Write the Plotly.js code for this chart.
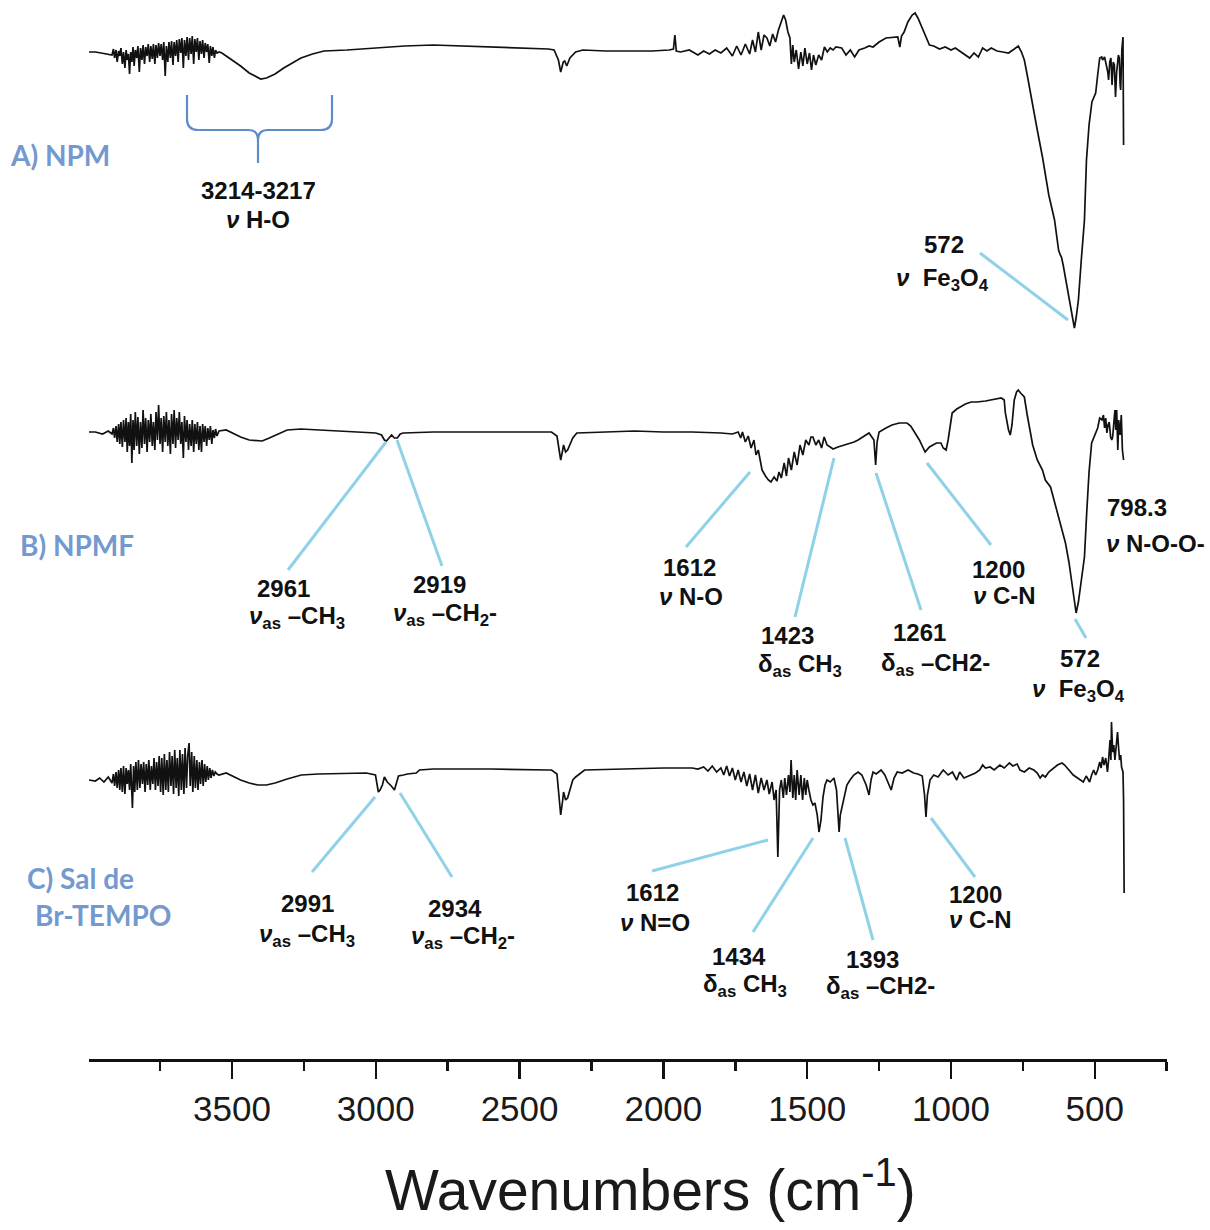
<!DOCTYPE html>
<html>
<head>
<meta charset="utf-8">
<script src="https://cdn.plot.ly/plotly-3.0.1.min.js"></script>
<style>
html,body{margin:0;padding:0;background:#fff;}
#chart{width:1210px;height:1230px;}
</style>
</head>
<body>
<div id="chart"></div>
<script>
// ---------- DATA: [wavenumber (cm-1), absorption depth relative to baseline (arb. units)] ----------
const specA_NPM = [[3997,2],[3975,2],[3955,3],[3935,4],[3917,5],[3912,-1],[3908,8],[3903,0],[3899,12],[3894,1],[3890,6],[3886,-2],[3881,14],[3877,2],[3872,18],[3868,0],[3864,10],[3860,4],[3856,24],[3852,2],[3848,12],[3844,-3],[3840,16],[3836,0],[3831,8],[3827,-4],[3822,22],[3818,-2],[3813,10],[3809,-5],[3804,14],[3800,-3],[3795,6],[3791,-6],[3786,12],[3782,-4],[3777,9],[3773,-6],[3768,14],[3764,-5],[3759,8],[3755,-7],[3750,6],[3746,-6],[3741,10],[3737,-8],[3732,26],[3728,-4],[3723,12],[3719,-8],[3714,8],[3710,-9],[3705,15],[3701,-8],[3696,6],[3692,-10],[3687,12],[3683,-11],[3678,3],[3674,-12],[3669,18],[3665,-10],[3660,6],[3656,-13],[3651,10],[3647,-12],[3642,4],[3638,-14],[3633,14],[3629,-11],[3624,2],[3620,-12],[3615,10],[3611,-9],[3606,4],[3602,-10],[3597,8],[3593,-7],[3588,2],[3584,-6],[3579,13],[3575,-4],[3570,6],[3566,-3],[3561,8],[3557,0],[3552,3],[3545,2],[3535,3],[3520,6],[3500,10],[3470,16],[3440,23],[3400,29],[3380,28],[3350,24],[3320,18],[3290,13],[3260,8],[3220,4],[3180,1],[3100,0],[3000,-2],[2900,-4],[2800,-5],[2700,-4],[2600,-3],[2500,-2],[2400,-1],[2380,0],[2365,10],[2357,22],[2348,12],[2343,11],[2336,16],[2325,8],[2305,2],[2280,0],[2200,1],[2100,1],[2040,1],[1980,0],[1965,-1],[1960,-15],[1955,1],[1940,2],[1910,0],[1880,5],[1860,1],[1840,4],[1820,0],[1800,3],[1780,-2],[1760,6],[1745,-4],[1730,5],[1715,-6],[1700,4],[1690,-10],[1680,2],[1670,-18],[1660,0],[1650,-15],[1640,-12],[1630,-4],[1620,-16],[1610,-8],[1600,-20],[1590,-28],[1582,-35],[1575,-30],[1567,-18],[1560,-12],[1555,14],[1550,-5],[1545,12],[1538,0],[1530,19],[1522,2],[1515,16],[1508,-2],[1500,14],[1492,3],[1485,20],[1478,5],[1470,15],[1460,5],[1450,10],[1440,-3],[1430,2],[1420,-2],[1410,0],[1400,-3],[1380,-2],[1365,5],[1350,0],[1335,7],[1320,0],[1300,-2],[1285,-4],[1271,-3],[1250,-8],[1226,-12],[1200,-13],[1185,-13],[1178,-3],[1172,-14],[1163,-18],[1150,-28],[1135,-35],[1125,-37],[1115,-32],[1100,-22],[1085,-12],[1075,-5],[1060,-4],[1040,-1],[1020,-3],[1000,0],[985,-2],[965,2],[950,5],[935,8],[920,3],[905,7],[890,-2],[875,1],[860,-2],[840,1],[820,2],[800,3],[780,-1],[766,-4],[755,2],[745,10],[735,25],[722,47],[700,80],[682,107],[660,145],[640,170],[626,200],[620,205],[616,207],[610,215],[598,235],[581,263],[575,272],[571,278],[565,268],[557,250],[547,210],[536,170],[529,110],[520,75],[510,52],[504,47],[497,43],[490,25],[483,8],[476,7],[473,10],[466,7],[459,15],[455,22],[452,30],[448,12],[444,8],[440,35],[436,12],[432,15],[428,47],[424,22],[418,5],[415,8],[412,35],[410,40],[406,0],[402,-13],[400,95]];

const specB_NPMF = [[3997,0],[3975,0],[3950,2],[3930,-1],[3917,2],[3912,-4],[3908,6],[3903,-6],[3899,10],[3894,-8],[3890,12],[3886,-10],[3881,15],[3877,-12],[3872,10],[3868,-14],[3864,20],[3860,-10],[3856,14],[3852,-18],[3848,31],[3844,-12],[3840,18],[3836,-20],[3831,14],[3827,-15],[3822,22],[3818,-10],[3813,16],[3809,-22],[3804,12],[3800,-14],[3795,20],[3791,-12],[3786,10],[3782,-18],[3777,14],[3773,-10],[3768,18],[3764,-20],[3759,8],[3755,-27],[3750,12],[3746,-14],[3741,20],[3737,-16],[3732,10],[3728,-20],[3723,14],[3719,-12],[3714,22],[3710,-18],[3705,12],[3701,-22],[3696,16],[3692,-14],[3687,8],[3683,-20],[3678,12],[3674,-10],[3669,26],[3665,-16],[3660,10],[3656,-12],[3651,18],[3647,-8],[3642,14],[3638,-12],[3633,20],[3629,-8],[3624,12],[3620,-10],[3615,18],[3611,-6],[3606,20],[3602,-8],[3597,10],[3593,-6],[3588,14],[3584,-4],[3579,8],[3575,-6],[3570,12],[3566,-2],[3561,6],[3557,-3],[3552,4],[3545,-1],[3520,-2],[3500,1],[3470,5],[3440,8],[3410,9],[3395,9],[3370,6],[3340,2],[3308,-2],[3260,-3],[3200,-2],[3100,-1],[3050,0],[3000,1],[2980,3],[2970,8],[2963,9],[2950,4],[2945,3],[2935,6],[2925,6],[2915,2],[2904,1],[2800,0],[2600,0],[2400,0],[2389,0],[2370,4],[2357,28],[2350,18],[2347,13],[2340,20],[2333,18],[2315,6],[2301,1],[2200,0],[2100,-1],[2000,0],[1900,0],[1800,1],[1760,2],[1740,0],[1731,6],[1725,0],[1715,10],[1705,4],[1695,16],[1685,8],[1678,23],[1670,18],[1657,38],[1645,44],[1635,48],[1626,50],[1615,45],[1605,49],[1598,40],[1590,46],[1580,31],[1572,44],[1565,26],[1555,38],[1545,20],[1535,33],[1525,13],[1515,23],[1505,8],[1494,13],[1487,5],[1480,5],[1470,13],[1460,8],[1450,16],[1441,5],[1431,13],[1420,15],[1410,17],[1393,15],[1380,14],[1360,12],[1337,10],[1323,8],[1300,4],[1285,1],[1268,8],[1262,33],[1257,10],[1250,0],[1226,-4],[1205,-7],[1180,-9],[1153,-9],[1140,-6],[1128,0],[1110,8],[1090,20],[1075,15],[1063,13],[1050,11],[1035,11],[1027,16],[1017,18],[1010,8],[996,-19],[980,-23],[968,-25],[950,-28],[930,-30],[910,-30],[880,-31],[860,-32],[840,-33],[825,-34],[815,-32],[811,-19],[800,-2],[794,3],[788,-7],[784,-19],[780,-32],[772,-40],[766,-42],[758,-39],[745,-35],[735,-17],[728,-5],[716,13],[700,28],[682,38],[672,48],[654,55],[640,70],[620,92],[602,111],[590,130],[580,150],[572,168],[565,181],[557,170],[547,150],[536,125],[528,80],[520,40],[511,11],[504,6],[497,1],[490,-4],[483,-14],[475,-12],[470,-17],[466,-4],[462,-14],[458,1],[454,-7],[450,-10],[445,5],[441,8],[438,5],[434,-7],[430,-22],[427,-2],[424,-22],[420,18],[417,-12],[412,3],[408,-17],[404,18],[400,28]];

const specC_BrTEMPO = [[3997,10],[3975,11],[3960,8],[3945,12],[3930,7],[3917,13],[3912,4],[3908,16],[3903,2],[3899,18],[3894,0],[3890,20],[3886,-2],[3881,22],[3877,-4],[3872,24],[3868,-2],[3864,14],[3860,0],[3856,20],[3852,-6],[3846,38],[3842,-4],[3838,22],[3834,-8],[3829,20],[3825,-10],[3820,18],[3816,-6],[3811,14],[3807,-8],[3802,22],[3798,-6],[3793,15],[3789,-10],[3784,20],[3780,-4],[3775,14],[3771,-12],[3766,20],[3762,-8],[3757,16],[3753,-14],[3748,22],[3744,-12],[3739,25],[3735,-16],[3730,20],[3726,-10],[3721,22],[3717,-18],[3712,16],[3708,-14],[3703,24],[3699,-20],[3694,18],[3690,-12],[3685,26],[3681,-20],[3676,20],[3672,-16],[3667,24],[3663,-22],[3658,18],[3654,-14],[3649,-27],[3645,16],[3640,-18],[3636,22],[3631,-14],[3627,18],[3622,-10],[3618,20],[3613,-8],[3609,14],[3604,-10],[3600,16],[3595,-6],[3591,12],[3586,-4],[3582,10],[3577,-2],[3573,8],[3568,0],[3563,6],[3558,2],[3552,4],[3545,5],[3520,3],[3500,6],[3470,10],[3440,13],[3410,15],[3380,15],[3350,13],[3308,9],[3259,5],[3200,4],[3100,3],[3033,3],[3001,5],[2995,15],[2991,22],[2985,20],[2977,15],[2970,7],[2960,12],[2946,16],[2935,20],[2925,10],[2921,6],[2904,5],[2890,4],[2859,3],[2848,0],[2800,-1],[2600,-1],[2400,0],[2389,0],[2370,4],[2357,45],[2350,30],[2347,22],[2340,30],[2333,28],[2315,10],[2305,7],[2274,0],[2150,-1],[2079,-2],[2000,-2],[1900,-2],[1880,-1],[1860,-3],[1845,1],[1830,-4],[1815,2],[1800,-2],[1790,5],[1780,-4],[1770,6],[1760,-2],[1750,10],[1740,0],[1730,12],[1720,2],[1710,16],[1700,4],[1690,20],[1680,5],[1670,23],[1660,8],[1650,20],[1640,10],[1632,24],[1622,12],[1615,30],[1608,20],[1602,87],[1596,20],[1590,10],[1583,28],[1578,8],[1572,25],[1565,5],[1560,22],[1556,-10],[1550,28],[1545,5],[1540,30],[1535,0],[1528,25],[1522,5],[1516,30],[1510,8],[1505,25],[1500,10],[1494,20],[1487,30],[1480,35],[1473,33],[1465,45],[1459,62],[1452,50],[1445,27],[1438,15],[1431,10],[1420,12],[1407,8],[1398,20],[1389,62],[1385,45],[1378,35],[1372,30],[1362,15],[1351,10],[1338,5],[1323,2],[1310,5],[1295,15],[1285,25],[1278,10],[1271,2],[1260,4],[1243,0],[1230,5],[1220,12],[1208,20],[1198,8],[1187,2],[1170,3],[1149,0],[1130,3],[1115,4],[1100,6],[1092,25],[1087,47],[1082,25],[1073,10],[1060,5],[1045,7],[1027,0],[1010,5],[995,2],[980,10],[970,2],[955,8],[930,5],[915,3],[900,0],[890,-5],[880,-2],[864,-3],[850,0],[830,-5],[815,-2],[797,-7],[785,-4],[770,-6],[760,0],[745,2],[728,-2],[712,0],[700,3],[690,8],[682,5],[672,7],[660,2],[645,-2],[630,-5],[614,-7],[605,-5],[590,0],[575,5],[560,8],[550,10],[540,12],[530,6],[518,12],[511,5],[504,0],[497,5],[490,0],[483,-8],[478,-2],[473,-13],[468,-5],[462,-12],[456,2],[452,-10],[447,-30],[444,-10],[442,-48],[438,-18],[434,-25],[430,-10],[428,-18],[424,-30],[421,-38],[418,-25],[414,-10],[410,-15],[407,-3],[402,2],[400,30],[398,123]];

const seriesNames = ["A) NPM", "B) NPMF", "C) Sal de Br-TEMPO"];
const tickValues = [3500, 3000, 2500, 2000, 1500, 1000, 500];
const axisTitle = "Wavenumbers (cm<sup>-1</sup>)";

// ---------- LAYOUT HELPERS (pixel geometry of the figure) ----------
const FIG_W = 1210, FIG_H = 1230;
const PL = 89, PR = 1167, PT = 0, PB = 1059;
const px = x => (x - PL) / (PR - PL);
const py = y => (PB - y) / (PB - PT);

// vertical stacking of the three spectra (baseline pixel rows)
const baselines = [50, 432, 770];
const specs = [specA_NPM, specB_NPMF, specC_BrTEMPO];

const traces = specs.map((s, i) => ({
  type: 'scatter', mode: 'lines',
  name: seriesNames[i],
  x: s.map(p => p[0]),
  y: s.map(p => -(baselines[i] + p[1])),
  line: {color: '#111111', width: 1.7},
  hoverinfo: 'skip', showlegend: false
}));

const txtFont = {family: 'Liberation Sans, Arial, sans-serif', size: 24, color: '#111111'};
const secFont = {family: 'Lato, Open Sans, sans-serif', size: 28, color: '#7399cf', weight: 700};
const NU = '<i>ν</i>';
const B = s => '<b>' + s + '</b>';

function label(cx, cy, text, font, anchor) {
  return {xref: 'paper', yref: 'paper', x: px(cx), y: py(cy), text: text,
          showarrow: false, xanchor: anchor || 'center', yanchor: 'middle',
          font: font || txtFont};
}

const annotations = [
  // section labels
  label(8, 155, B('A) NPM'), secFont, 'left'),
  label(18, 545, B('B) NPMF'), secFont, 'left'),
  label(25, 878, B('C) Sal de'), secFont, 'left'),
  label(33, 915, B('Br-TEMPO'), secFont, 'left'),
  // A
  label(258, 190, B('3214-3217')),
  label(258, 220, B(NU + ' H-O')),
  label(944, 244, B('572')),
  label(942, 279, B(NU + '  Fe<sub>3</sub>O<sub>4</sub>')),
  // B
  label(283, 588, B('2961')),
  label(297, 617, B(NU + '<sub>as</sub> –CH<sub>3</sub>')),
  label(439, 584, B('2919')),
  label(445, 614, B(NU + '<sub>as</sub> –CH<sub>2</sub>-')),
  label(689, 567, B('1612')),
  label(691, 596, B(NU + ' N-O')),
  label(787, 635, B('1423')),
  label(800, 665, B('δ<sub>as</sub> CH<sub>3</sub>')),
  label(919, 632, B('1261')),
  label(935, 664, B('δ<sub>as</sub> –CH2-')),
  label(998, 569, B('1200')),
  label(1004, 595, B(NU + ' C-N')),
  label(1137, 507, B('798.3')),
  label(1155, 543, B(NU + ' N-O-O-')),
  label(1080, 659, B('572')),
  label(1078, 690, B(NU + '  Fe<sub>3</sub>O<sub>4</sub>')),
  // C
  label(307, 903, B('2991')),
  label(307, 935, B(NU + '<sub>as</sub> –CH<sub>3</sub>')),
  label(455, 908, B('2934')),
  label(463, 937, B(NU + '<sub>as</sub> –CH<sub>2</sub>-')),
  label(652, 892, B('1612')),
  label(655, 922, B(NU + ' N=O')),
  label(739, 956, B('1434')),
  label(745, 985, B('δ<sub>as</sub> CH<sub>3</sub>')),
  label(872, 959, B('1393')),
  label(880, 987, B('δ<sub>as</sub> –CH2-')),
  label(975, 894, B('1200')),
  label(980, 920, B(NU + ' C-N')),
  // axis title
  label(650, 1186, axisTitle, {family: 'Liberation Sans, Arial, sans-serif', size: 57, color: '#1a1a1a'})
];

const leaderColor = '#8fd2e8';
function leader(x0, y0, x1, y1) {
  return {type: 'line', xref: 'paper', yref: 'paper', x0: px(x0), y0: py(y0), x1: px(x1), y1: py(y1),
          line: {color: leaderColor, width: 3}};
}
const shapes = [
  leader(980, 253, 1068, 320),
  leader(386, 442, 288, 570),
  leader(397, 440, 442, 566),
  leader(750, 472, 686, 547),
  leader(834, 458, 795, 617),
  leader(876, 473, 921, 610),
  leader(927, 463, 991, 545),
  leader(1075, 619, 1086, 638),
  leader(375, 797, 312, 872),
  leader(400, 793, 452, 877),
  leader(768, 840, 652, 871),
  leader(813, 838, 753, 932),
  leader(845, 838, 873, 940),
  leader(931, 818, 975, 877)
];
// curly brace under the H-O band
(function(){
  const P = (x, y) => px(x).toFixed(5) + ',' + py(y).toFixed(5);
  const path = 'M' + P(187, 95) + ' L' + P(187, 119) + ' Q' + P(187, 130) + ' ' + P(198, 130) +
    ' L' + P(248, 130) + ' Q' + P(258, 130) + ' ' + P(258, 140) + ' L' + P(258, 163) +
    ' M' + P(258, 140) + ' Q' + P(258, 130) + ' ' + P(268, 130) + ' L' + P(321, 130) +
    ' Q' + P(332, 130) + ' ' + P(332, 119) + ' L' + P(332, 95);
  shapes.push({type: 'path', xref: 'paper', yref: 'paper', path: path,
    line: {color: '#5e8cc9', width: 2.2}});
})();

const layout = {
  width: FIG_W, height: FIG_H,
  margin: {l: PL, r: FIG_W - PR, t: PT, b: FIG_H - PB},
  paper_bgcolor: '#ffffff', plot_bgcolor: '#ffffff',
  showlegend: false,
  xaxis: {
    range: [3997, 249], showgrid: false, zeroline: false,
    showline: true, linecolor: '#111111', linewidth: 2.5,
    tickmode: 'array', tickvals: tickValues, ticktext: tickValues.map(String),
    ticks: 'outside', ticklen: 17, tickwidth: 2.5, tickcolor: '#111111',
    minor: {ticks: 'outside', ticklen: 9, tickwidth: 2.5, tickcolor: '#111111', tickmode: 'linear', tick0: 250, dtick: 500, showgrid: false},
    tickfont: {family: 'Liberation Sans, Arial, sans-serif', size: 35, color: '#1a1a1a'},
    fixedrange: true
  },
  yaxis: {range: [-PB, 0], visible: false, fixedrange: true},
  annotations: annotations,
  shapes: shapes
};

Plotly.newPlot('chart', traces, layout, {staticPlot: true, displayModeBar: false});
</script>
</body>
</html>
